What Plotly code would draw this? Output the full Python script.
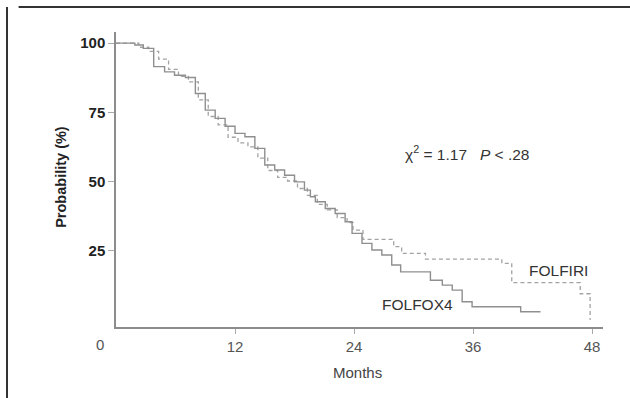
import plotly.graph_objects as go

# Kaplan-Meier estimates (% surviving) by month
months_folfox4 = [0, 1.9, 2.75, 3.8, 4.9, 5.9, 7.0, 8.0, 9.0, 10.0, 11.0, 12.0, 13.0,
                  14.0, 15.0, 16.0, 17.0, 18.0, 19.0, 19.6, 20.1, 21.1, 22.1, 23.1,
                  23.8, 24.8, 25.8, 26.8, 27.8, 28.7, 31.7, 32.9, 33.9, 34.9, 35.9,
                  40.8, 42.8]
surv_folfox4 = [100, 99.3, 98.1, 91.5, 89.6, 88.4, 87.6, 81.8, 75.8, 72.8, 70.0, 67.4,
                66.2, 62.0, 56.0, 54.2, 52.3, 49.9, 46.9, 44.5, 42.7, 40.3, 38.5, 35.5,
                31.3, 27.7, 25.3, 23.5, 19.9, 17.4, 14.4, 12.6, 10.8, 6.6, 4.8,
                3.0, 3.0]

months_folfiri = [0, 2.3, 3.3, 4.3, 5.3, 6.3, 7.3, 8.3, 9.3, 10.3, 11.3, 12.3, 13.3,
                  14.3, 15.3, 16.3, 17.3, 18.3, 19.3, 20.3, 21.3, 22.3, 23.3, 23.9,
                  24.9, 28.0, 28.8, 31.2, 38.9, 39.9, 46.8, 47.8, 47.8]
surv_folfiri = [100, 98.5, 97.0, 94.2, 90.5, 88.0, 86.0, 79.5, 73.5, 70.5, 66.0, 64.0,
                62.5, 58.5, 54.0, 51.5, 50.2, 47.5, 45.0, 41.8, 39.8, 37.0, 35.2, 32.5,
                29.1, 26.5, 24.1, 22.0, 20.5, 13.5, 9.5, 9.5, 0]

x_ticks = [12, 24, 36, 48]
y_ticks = [25, 50, 75, 100]

FONT = "Liberation Sans, Arial, sans-serif"

fig = go.Figure()
fig.add_trace(go.Scatter(
    x=months_folfiri, y=surv_folfiri, mode="lines", line_shape="hv",
    line=dict(color="#a3a3a3", width=1.3, dash="4px,3px"), name="FOLFIRI",
))
fig.add_trace(go.Scatter(
    x=months_folfox4, y=surv_folfox4, mode="lines", line_shape="hv",
    line=dict(color="#8f8f8f", width=1.4), name="FOLFOX4",
))

fig.update_layout(
    width=630, height=398,
    margin=dict(l=116, r=27, t=32, b=71),
    paper_bgcolor="white", plot_bgcolor="white",
    showlegend=False,
    font=dict(family=FONT),
)
fig.update_xaxes(
    range=[0, 49.1], tickvals=x_ticks, ticktext=[str(v) for v in x_ticks],
    showline=True, linecolor="#8c8c8c", linewidth=1.5,
    ticks="outside", ticklen=5, tickcolor="#aaaaaa",
    tickfont=dict(size=15, color="#555555", family=FONT),
    showgrid=False, zeroline=False, fixedrange=True,
)
fig.update_yaxes(
    range=[-2.5, 104], tickvals=y_ticks, ticktext=[str(v) for v in y_ticks],
    showline=True, linecolor="#8c8c8c", linewidth=1.5,
    ticks="outside", ticklen=6, tickcolor="#aaaaaa",
    tickfont=dict(size=15, color="#222222", family=FONT, weight="bold"),
    showgrid=False, zeroline=False, fixedrange=True,
)

ann = dict(showarrow=False, font=dict(family=FONT, size=15.5, color="#333333"))
fig.add_annotation(x=0, y=-0.05, xref="x", yref="paper", text="0", xshift=-16, yshift=8,
                   yanchor="top", **{**ann, "font": dict(family=FONT, size=15, color="#555555")})
fig.add_annotation(x=24.3, y=-0.12, xref="x", yref="paper", text="Months", yanchor="top",
                   **{**ann, "font": dict(family=FONT, size=15, color="#444444")})
fig.add_annotation(x=-0.135, y=0.51, xref="paper", yref="paper", text="<b>Probability (%)</b>",
                   textangle=-90, **{**ann, "font": dict(family=FONT, size=14.5, color="#222222")})
fig.add_annotation(x=28.9, y=60.3, xref="x", yref="y", xanchor="left",
                   text="χ<sup>2</sup> = 1.17   <i>P</i> &lt; .28", **ann)
fig.add_annotation(x=44.6, y=18.0, xref="x", yref="y", text="FOLFIRI", **ann)
fig.add_annotation(x=30.4, y=5.8, xref="x", yref="y", text="FOLFOX4", **ann)

# clipped frame: top and left edges only
fig.add_shape(type="line", xref="paper", yref="paper", x0=-0.2, x1=1.2,
              y0=1 + 25 / 295, y1=1 + 25 / 295, line=dict(color="#333333", width=2))
fig.add_shape(type="line", xref="paper", yref="paper", x0=-109 / 487, x1=-109 / 487,
              y0=-0.3, y1=1 + 25 / 295, line=dict(color="#333333", width=2))

fig.write_html("out.html")
